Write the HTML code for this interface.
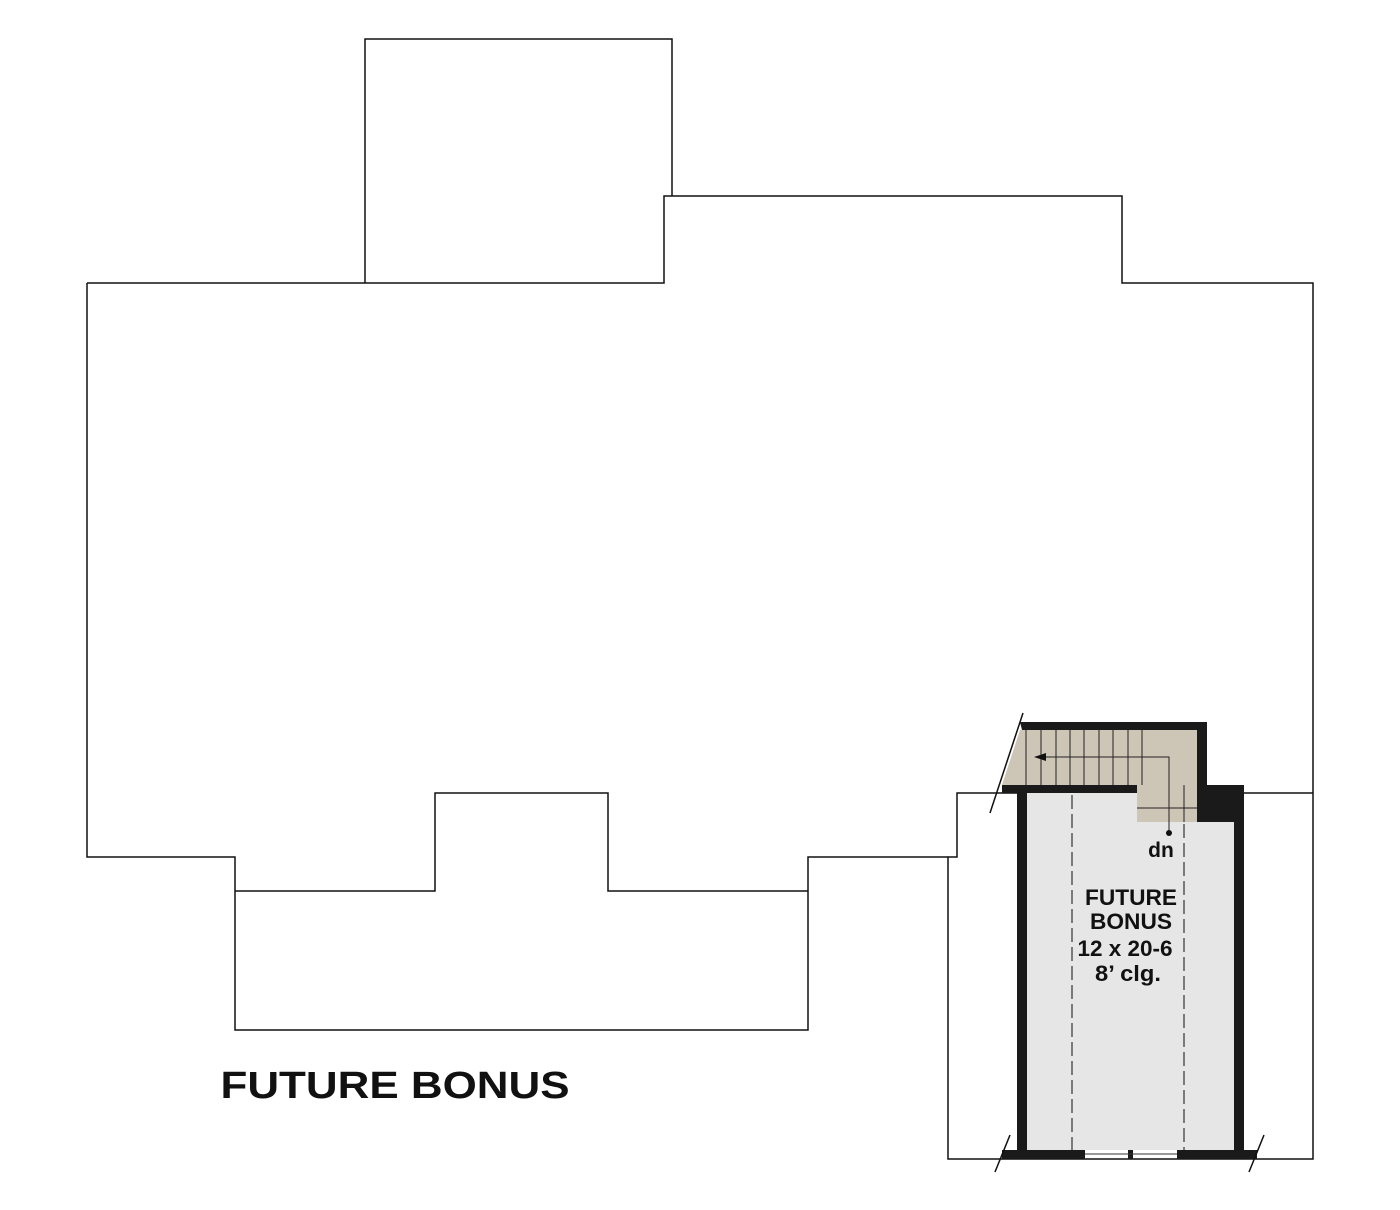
<!DOCTYPE html>
<html><head><style>html,body{margin:0;padding:0;background:#fff}svg{display:block}</style></head>
<body>
<svg width="1400" height="1210" viewBox="0 0 1400 1210" xmlns="http://www.w3.org/2000/svg">
<g fill="none" stroke="#111" stroke-width="1.5">
<polyline points="365,283 365,39 672,39 672,196"/>
<polyline points="87,283 664,283 664,196 1122,196 1122,283 1313,283 1313,1159 948,1159 948,857 957,857 957,793 1017,793"/>
<polyline points="1243,793 1313,793"/>
<polyline points="87,283 87,857 235,857 235,1030 808,1030 808,857 948,857"/>
<polyline points="235,891 435,891 435,793 608,793 608,891 808,891"/>
</g>
<rect x="1027" y="793" width="207" height="357" fill="#e6e6e6"/>
<polygon points="1020,730 1197,730 1197,822 1137,822 1137,785 1002,785" fill="#cdc5b6"/>
<g fill="#1a1a1a">
<polygon points="1020,722 1207,722 1207,785 1244,785 1244,1159 1234,1159 1234,822 1197,822 1197,730 1022,730"/>
<rect x="1002" y="785" width="135" height="8"/>
<rect x="1017" y="785" width="10" height="374"/>
<rect x="1002" y="1150" width="83" height="9"/>
<rect x="1177" y="1150" width="80" height="9"/>
<rect x="1128" y="1150" width="5" height="9"/>
</g>
<line x1="1085" y1="1154" x2="1177" y2="1154" stroke="#333" stroke-width="1"/>
<g stroke="#222" stroke-width="1">
<line x1="1026" y1="730" x2="1026" y2="785"/><line x1="1041" y1="730" x2="1041" y2="785"/>
<line x1="1056" y1="730" x2="1056" y2="785"/><line x1="1070" y1="730" x2="1070" y2="785"/>
<line x1="1084" y1="730" x2="1084" y2="785"/><line x1="1099" y1="730" x2="1099" y2="785"/>
<line x1="1113" y1="730" x2="1113" y2="785"/><line x1="1128" y1="730" x2="1128" y2="785"/>
<line x1="1142" y1="730" x2="1142" y2="785"/>
<line x1="1137" y1="808" x2="1197" y2="808"/><line x1="1184" y1="785" x2="1184" y2="822"/>
<polyline points="1042,757 1169,757 1169,833" fill="none"/>
</g>
<polygon points="1034,757 1046,753 1046,761" fill="#111"/>
<circle cx="1169" cy="833" r="3" fill="#111"/>
<g stroke="#111" stroke-width="1.5">
<line x1="1023" y1="713" x2="990" y2="813"/>
<line x1="1010" y1="1135" x2="995" y2="1172"/>
<line x1="1264" y1="1135" x2="1249" y2="1172"/>
</g>
<g stroke="#333" stroke-width="1.2" stroke-dasharray="14,5">
<line x1="1072" y1="795" x2="1072" y2="1150"/>
<line x1="1184" y1="824" x2="1184" y2="1150"/>
</g>
<g font-family="Liberation Sans, Arial, sans-serif" font-weight="bold" fill="#111" text-anchor="middle">
<text x="1161" y="857" font-size="21">dn</text>
<text x="1131" y="905" font-size="22" textLength="92" lengthAdjust="spacingAndGlyphs">FUTURE</text>
<text x="1131" y="929" font-size="22" textLength="82" lengthAdjust="spacingAndGlyphs">BONUS</text>
<text x="1125" y="956" font-size="22" textLength="95" lengthAdjust="spacingAndGlyphs">12 x 20-6</text>
<text x="1128" y="981" font-size="22" textLength="66" lengthAdjust="spacingAndGlyphs">8’ clg.</text>
<text x="395" y="1098" font-size="38" textLength="349" lengthAdjust="spacingAndGlyphs">FUTURE BONUS</text>
</g>
</svg>
</body></html>
